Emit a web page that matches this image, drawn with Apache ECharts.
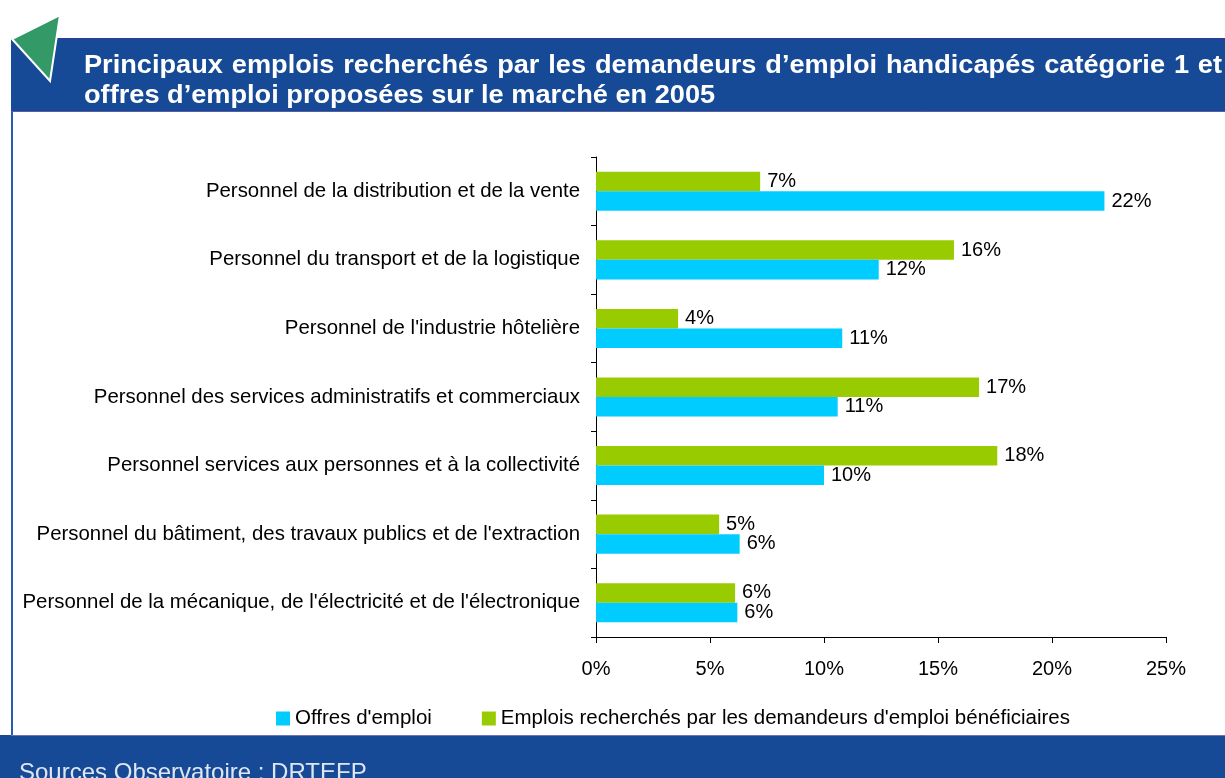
<!DOCTYPE html>
<html>
<head>
<meta charset="utf-8">
<title>Emplois recherchés et offres d'emploi 2005</title>
<script src="https://cdn.jsdelivr.net/npm/echarts@6/dist/echarts.min.js"></script>
<style>
  html, body { margin: 0; padding: 0; background: #fff; }
  #chart { width: 1225px; height: 778px; }
</style>
</head>
<body>
<div id="chart"></div>
<script>
// données (en %)
const categories = [
  'Personnel de la distribution et de la vente',
  'Personnel du transport et de la logistique',
  "Personnel de l'industrie hôtelière",
  'Personnel des services administratifs et commerciaux',
  'Personnel services aux personnes et à la collectivité',
  "Personnel du bâtiment, des travaux publics et de l'extraction",
  "Personnel de la mécanique, de l'électricité et de l'électronique"
];
const offresEmploi = [22.3, 12.4, 10.8, 10.6, 10.0, 6.3, 6.2];
const emploisRecherches = [7.2, 15.7, 3.6, 16.8, 17.6, 5.4, 6.1];
const xTicks = [0, 5, 10, 15, 20, 25];

const seriesNames = ["Offres d'emploi", "Emplois recherchés par les demandeurs d'emploi bénéficiaires"];
const titleLines = [
  'Principaux emplois recherchés par les demandeurs d’emploi handicapés catégorie 1 et',
  'offres d’emploi proposées sur le marché en 2005'
];
const sourceText = 'Sources Observatoire : DRTEFP';

const FONT = '"Liberation Sans", Arial, sans-serif';
const BLUE = '#174A96';
const TITLE_SIZE = 26;
const TITLE_STRETCH = 1.045;

// titre justifié : on mesure chaque mot et on répartit l'espace restant
const ctx = document.createElement('canvas').getContext('2d');
ctx.font = 'bold ' + TITLE_SIZE + 'px ' + FONT;

function titleWords(line, x0, x1, y, justify) {
  const words = line.split(' ');
  const widths = words.map(w => ctx.measureText(w).width * TITLE_STRETCH);
  const total = widths.reduce((a, b) => a + b, 0);
  const gap = justify ? (x1 - x0 - total) / (words.length - 1) : ctx.measureText(' ').width * TITLE_STRETCH;
  let x = x0;
  return words.map((w, i) => {
    const el = {
      type: 'text', x: x, y: y, z: 10, scaleX: TITLE_STRETCH,
      style: {
        text: w, fill: '#fff', font: 'bold ' + TITLE_SIZE + 'px ' + FONT,
        verticalAlign: 'middle'
      }
    };
    x += widths[i] + gap;
    return el;
  });
}

const chart = echarts.init(document.getElementById('chart'));

chart.setOption({
  backgroundColor: '#fff',
  animation: false,
  textStyle: { fontFamily: FONT },
  graphic: [
    { type: 'rect', shape: { x: 11, y: 38, width: 1214, height: 74 }, style: { fill: BLUE }, z: 5 },
    { type: 'line', shape: { x1: 11, y1: 38.5, x2: 1225, y2: 38.5 }, style: { stroke: '#34349a', lineWidth: 1 }, z: 6 },
    { type: 'line', shape: { x1: 11, y1: 111.5, x2: 1225, y2: 111.5 }, style: { stroke: '#5a5aa8', lineWidth: 1 }, z: 6 },
    { type: 'rect', shape: { x: 11, y: 112, width: 2, height: 624 }, style: { fill: '#2a5cb0' }, z: 5 },
    { type: 'rect', shape: { x: 0, y: 735, width: 1225, height: 43 }, style: { fill: BLUE }, z: 5 },
    { type: 'line', shape: { x1: 11, y1: 735.5, x2: 1225, y2: 735.5 }, style: { stroke: '#7070b8', lineWidth: 1 }, z: 6 },
    {
      type: 'polygon', z: 12,
      shape: { points: [[12, 39], [60, 15], [50, 81]] },
      style: { fill: '#339966', stroke: '#fff', lineWidth: 2 }
    },
    {
      type: 'text', x: 19, y: 773, z: 10,
      style: { text: sourceText, fill: '#dfe6f2', font: '24px ' + FONT, verticalAlign: 'middle' }
    }
  ].concat(titleWords(titleLines[0], 84, 1222, 66, true))
   .concat(titleWords(titleLines[1], 84, 1222, 96, false)),
  legend: {
    left: 271,
    top: 703,
    itemWidth: 14,
    itemHeight: 14,
    itemGap: 50,
    icon: 'rect',
    data: seriesNames,
    textStyle: { fontSize: 20.5, color: '#000', fontFamily: FONT }
  },
  grid: { left: 596, right: 59, top: 157, bottom: 141, containLabel: false },
  xAxis: {
    type: 'value',
    min: xTicks[0],
    max: xTicks[xTicks.length - 1],
    interval: xTicks[1] - xTicks[0],
    splitLine: { show: false },
    axisLine: { show: true, lineStyle: { color: '#000', width: 1 } },
    axisTick: { show: true, length: 6, lineStyle: { color: '#000' } },
    axisLabel: { margin: 22, fontSize: 20, color: '#000', formatter: '{value}%' }
  },
  yAxis: {
    type: 'category',
    inverse: true,
    data: categories,
    axisLine: { show: true, lineStyle: { color: '#000', width: 1 } },
    axisTick: { show: true, length: 5, lineStyle: { color: '#000' } },
    axisLabel: { margin: 16, fontSize: 20.4, color: '#000' }
  },
  series: [
    {
      name: seriesNames[1],
      type: 'bar',
      data: emploisRecherches,
      itemStyle: { color: '#99CC00' },
      barGap: '0%',
      barCategoryGap: '43%',
      label: {
        show: true, position: 'right', distance: 7,
        fontSize: 20, color: '#000',
        formatter: p => Math.round(p.value) + '%'
      }
    },
    {
      name: seriesNames[0],
      type: 'bar',
      data: offresEmploi,
      itemStyle: { color: '#00CCFF' },
      barGap: '0%',
      barCategoryGap: '43%',
      label: {
        show: true, position: 'right', distance: 7,
        fontSize: 20, color: '#000',
        formatter: p => Math.round(p.value) + '%'
      }
    }
  ]
});
</script>
</body>
</html>
